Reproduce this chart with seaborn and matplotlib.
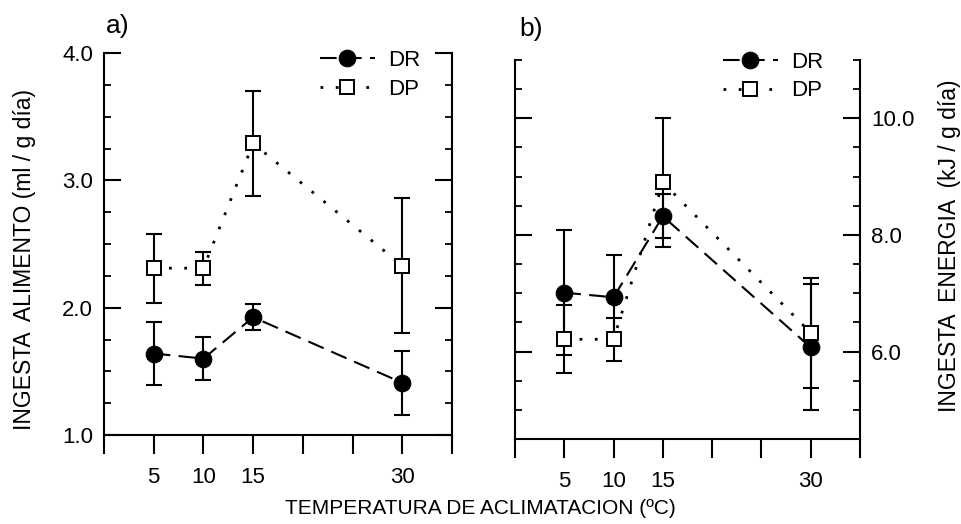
import numpy as np
import pandas as pd
import matplotlib
matplotlib.use("Agg")
import matplotlib.pyplot as plt
import seaborn as sns
from matplotlib.ticker import MultipleLocator, FixedLocator, FixedFormatter

# ---- data ----
temps = [5, 10, 15, 30]
a_dr = [1.64, 1.60, 1.925, 1.41]
a_dr_err = [0.25, 0.17, 0.10, 0.25]
a_dp = [2.31, 2.31, 3.29, 2.33]
a_dp_err = [0.27, 0.13, 0.41, 0.53]
b_dr = [7.01, 6.93, 8.32, 6.07]
b_dr_err = [1.07, 0.73, 0.38, 1.08]
b_dp = [6.21, 6.21, 8.90, 6.32]
b_dp_err = [0.58, 0.37, 1.10, 0.94]
x_ticks = [0, 5, 10, 15, 20, 25, 30, 35]
x_ticklabels = ["", "5", "10", "15", "", "", "30", ""]
a_yticks = [1.0, 2.0, 3.0, 4.0]
a_yticklabels = ["1.0", "2.0", "3.0", "4.0"]
b_yticks = [6.0, 8.0, 10.0]
b_yticklabels = ["6.0", "8.0", "10.0"]

sns.set_theme(style="ticks")
plt.rcParams["font.family"] = ["Liberation Sans", "DejaVu Sans"]
plt.rcParams.update({"text.color": "black", "axes.labelcolor": "black",
                     "xtick.color": "black", "ytick.color": "black",
                     "axes.edgecolor": "black"})
FS = 16

fig = plt.figure(figsize=(9.62, 5.24), dpi=100)
W, H = 962, 524

def axes_px(l, t, r, b):
    return fig.add_axes([l / W, 1 - b / H, (r - l) / W, (b - t) / H])

ax_a = axes_px(104, 53, 452, 435)
ax_b = axes_px(515, 60, 860, 439)

DR_DASH = (8, 4)
DP_DASH = (1, 4.5)

def draw(ax, dr, dr_err, dp, dp_err):
    df_dr = pd.DataFrame({"T": temps, "v": dr})
    df_dp = pd.DataFrame({"T": temps, "v": dp})
    ax.errorbar(temps, dr, yerr=dr_err, fmt="none", ecolor="black",
                elinewidth=1.5, capsize=6, capthick=1.5, zorder=2)
    ax.errorbar(temps, dp, yerr=dp_err, fmt="none", ecolor="black",
                elinewidth=1.5, capsize=6, capthick=1.5, zorder=2)
    sns.lineplot(data=df_dr, x="T", y="v", ax=ax, color="black", lw=1.5,
                 marker="o", markersize=12, markerfacecolor="black",
                 markeredgecolor="black", dashes=DR_DASH, label="DR", zorder=3)
    sns.lineplot(data=df_dp, x="T", y="v", ax=ax, color="black", lw=2.0,
                 marker="s", markersize=10.5, markerfacecolor="white",
                 markeredgecolor="black", markeredgewidth=1.4,
                 dashes=DP_DASH, label="DP", zorder=4)
    ax.set_xlim(0, 35)
    ax.xaxis.set_major_locator(FixedLocator(x_ticks))
    ax.xaxis.set_major_formatter(FixedFormatter(x_ticklabels))
    ax.tick_params(axis="x", direction="out", length=14, width=1.5,
                   pad=9, labelsize=FS, colors="black")
    ax.tick_params(axis="y", which="major", direction="in", length=12,
                   width=1.5, pad=8, labelsize=FS, left=True, right=True,
                   colors="black")
    ax.tick_params(axis="y", which="minor", direction="in", length=5,
                   width=1.3, left=True, right=True, colors="black")
    for s in ax.spines.values():
        s.set_linewidth(1.5)
        s.set_color("black")
    ax.spines["top"].set_visible(False)
    ax.set_xlabel("")
    ax.set_ylabel("")

draw(ax_a, a_dr, a_dr_err, a_dp, a_dp_err)
ax_a.set_ylim(1.0, 4.0)
ax_a.yaxis.set_major_locator(FixedLocator(a_yticks))
ax_a.yaxis.set_major_formatter(FixedFormatter(a_yticklabels))
ax_a.yaxis.set_minor_locator(MultipleLocator(0.25))

draw(ax_b, b_dr, b_dr_err, b_dp, b_dp_err)
ax_b.set_ylim(4.5, 11.0)
ax_b.yaxis.set_major_locator(FixedLocator(b_yticks))
ax_b.yaxis.set_major_formatter(FixedFormatter(b_yticklabels))
ax_b.yaxis.set_minor_locator(MultipleLocator(0.5))
ax_b.tick_params(axis="y", labelleft=False, labelright=True)

for ax, anchor in ((ax_a, (0.91, 1.008)), (ax_b, (0.895, 1.022))):
    leg = ax.legend(loc="upper right", bbox_to_anchor=anchor, frameon=False,
                    fontsize=FS, handlelength=2.5, handletextpad=0.6,
                    labelspacing=0.35, borderpad=0, borderaxespad=0)
    for t in leg.get_texts():
        t.set_color("black")

fig.text(25 / W, 1 - 260 / H, "INGESTA  ALIMENTO (ml / g día)", rotation=90,
         ha="center", va="center", fontsize=16.5, color="black")
fig.text(950 / W, 1 - 246 / H, "INGESTA  ENERGIA  (kJ / g día)", rotation=90,
         ha="center", va="center", fontsize=16.5, color="black")
fig.text(480 / W, 1 - 508 / H, "TEMPERATURA DE ACLIMATACION (ºC)",
         ha="center", va="center", fontsize=15, color="black")
fig.text(118 / W, 1 - 26 / H, "a)", ha="center", va="center", fontsize=19,
         color="black")
fig.text(531 / W, 1 - 29 / H, "b)", ha="center", va="center", fontsize=19,
         color="black")

fig.savefig("out.png", dpi=100)
